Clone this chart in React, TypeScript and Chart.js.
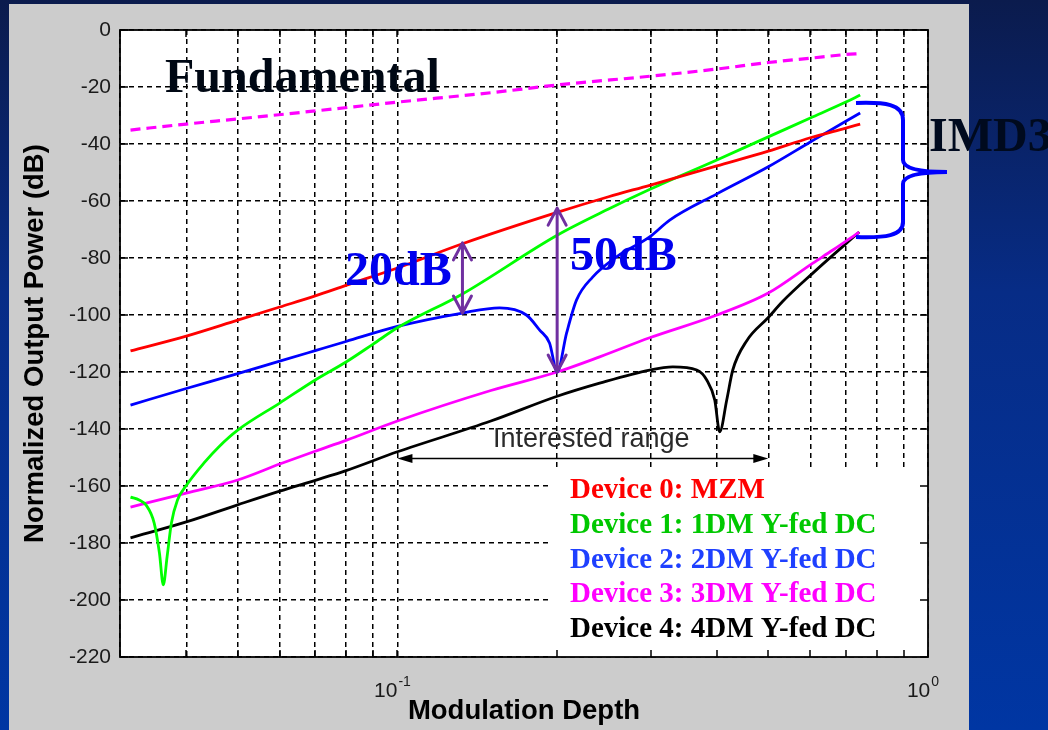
import React, { useEffect, useRef } from 'react';
import { Chart, registerables } from 'chart.js';

Chart.register(...registerables);

// ---------- axis ticks ----------
const xGridTicks = [0.03, 0.04, 0.05, 0.06, 0.07, 0.08, 0.09, 0.1, 0.2, 0.3, 0.4, 0.5, 0.6, 0.7, 0.8, 0.9, 1];
const xDecadeValues = [0.1, 1];
const xDecadeBase = ['10', '10'];
const xDecadeExp = ['-1', '0'];
const yMin = -220;
const yMax = 0;
const yStep = 20;

// ---------- series (modulation depth, dB) ----------
const fundM = [0.0314, 0.04, 0.05, 0.07, 0.1, 0.15, 0.2, 0.3, 0.4, 0.5, 0.6, 0.7, 0.745];
const fundDb = [-35.1, -33.0, -31.2, -28.4, -25.3, -22.0, -19.3, -16.2, -13.7, -11.4, -9.9, -8.6, -8.3];

const mzmM = [0.0314, 0.04, 0.05, 0.06, 0.07, 0.08, 0.1, 0.1326, 0.2, 0.25, 0.3, 0.4, 0.5, 0.6, 0.7, 0.745];
const mzmDb = [-112.6, -107.4, -101.8, -97.2, -93.3, -89.6, -83.5, -75.0, -64.0, -58.5, -54.4, -47.7, -42.5, -37.8, -34.4, -33.0];

const dm1M = [0.0314, 0.0326, 0.0336, 0.0348, 0.0356, 0.0362, 0.0368, 0.0375, 0.0385, 0.04, 0.0432, 0.0461, 0.05, 0.06, 0.07, 0.08, 0.09, 0.1, 0.1326, 0.2, 0.25, 0.3, 0.4, 0.5, 0.6, 0.7, 0.745];
const dm1Db = [-163.9, -164.9, -166.7, -173.0, -183.5, -194.7, -184.9, -173.0, -164.9, -159.8, -151.9, -146.2, -140.4, -130.9, -122.8, -116.5, -110.2, -104.5, -92.6, -72.0, -62.8, -55.8, -45.6, -37.5, -30.9, -25.3, -22.8];

const dm2M = [0.0314, 0.04, 0.05, 0.06, 0.07, 0.08, 0.1, 0.1326, 0.1558, 0.175, 0.1854, 0.1935, 0.2, 0.2084, 0.2176, 0.2333, 0.2588, 0.2988, 0.326, 0.4, 0.5, 0.6, 0.7, 0.745];
const dm2Db = [-131.6, -125.8, -120.6, -116.2, -112.5, -109.3, -104.0, -99.3, -97.5, -100.0, -105.3, -109.8, -120.0, -106.3, -94.7, -86.7, -79.6, -72.6, -66.7, -57.5, -48.0, -39.3, -32.0, -29.1];

const dm3M = [0.0314, 0.04, 0.05, 0.06, 0.07, 0.08, 0.1, 0.15, 0.2, 0.2405, 0.2988, 0.4, 0.5, 0.6067, 0.6617, 0.742];
const dm3Db = [-167.4, -162.5, -157.9, -152.3, -147.8, -144.0, -137.2, -126.5, -120.0, -114.7, -108.0, -100.0, -92.3, -81.8, -77.2, -70.9];

const dm4M = [0.0314, 0.04, 0.05, 0.06, 0.07, 0.08, 0.1, 0.15, 0.2, 0.2405, 0.2988, 0.3304, 0.3666, 0.3828, 0.3963, 0.405, 0.4175, 0.4286, 0.4555, 0.5, 0.5325, 0.6067, 0.742];
const dm4Db = [-178.2, -172.6, -166.6, -161.8, -158.0, -154.6, -148.0, -137.2, -128.5, -123.9, -119.3, -118.2, -119.3, -122.8, -129.8, -141.0, -129.8, -119.3, -109.0, -100.9, -95.2, -85.3, -70.9];

const seriesLabels = ['Fundamental', 'Device 0: MZM', 'Device 1: 1DM Y-fed DC', 'Device 2: 2DM Y-fed DC', 'Device 3: 3DM Y-fed DC', 'Device 4: 4DM Y-fed DC'];

// ---------- annotations (values) ----------
const arrow20M = 0.1326;
const arrow20Db = [-74.7, -99.3];
const arrow50M = 0.2;
const arrow50Db = [-62.5, -120.0];
const rangeM = [0.1, 0.5];
const rangeDb = -150;

const SERIF = '"Liberation Serif", "Times New Roman", serif';
const SANS = '"Liberation Sans", Arial, sans-serif';

const lineColors = ['#ff00ff', '#ff0000', '#00ff00', '#0000ff', '#ff00ff', '#000000'];
const legendColors = ['', '#ff0000', '#00c800', '#1f40ff', '#ff00ff', '#000000'];

function zip(m: number[], d: number[]) {
  return m.map((v, i) => ({ x: v, y: d[i] }));
}

const decorPlugin = {
  id: 'decor',
  beforeDraw(chart: any) {
    const { ctx, width, height, chartArea: a } = chart;
    ctx.save();
    const g = ctx.createLinearGradient(0, 0, 0, height);
    g.addColorStop(0, '#0b1b4d');
    g.addColorStop(0.4, '#072c86');
    g.addColorStop(1, '#0036a3');
    ctx.fillStyle = g;
    ctx.fillRect(0, 0, width, height);
    ctx.fillStyle = '#cccccc';
    ctx.fillRect(9, 4, 960, height - 4);
    ctx.fillStyle = '#ffffff';
    ctx.fillRect(a.left, a.top, a.right - a.left, a.bottom - a.top);
    ctx.restore();
  },
  beforeDatasetsDraw(chart: any) {
    const { ctx, chartArea: a } = chart;
    ctx.save();
    ctx.fillStyle = '#ffffff';
    ctx.fillRect(552, 468, a.right - 552, a.bottom - 468);
    ctx.restore();
  },
  afterDatasetsDraw(chart: any) {
    const { ctx, chartArea: a } = chart;
    const xs = chart.scales.x;
    const ys = chart.scales.y;
    const px = (v: number) => xs.getPixelForValue(v);
    const py = (v: number) => ys.getPixelForValue(v);
    ctx.save();

    // inner tick marks
    ctx.strokeStyle = '#000';
    ctx.lineWidth = 1.5;
    ctx.setLineDash([]);
    ctx.beginPath();
    xGridTicks.forEach((v) => {
      const x = Math.round(px(v));
      ctx.moveTo(x, a.bottom);
      ctx.lineTo(x, a.bottom - 7);
      ctx.moveTo(x, a.top);
      ctx.lineTo(x, a.top + 7);
    });
    for (let v = yMin; v <= yMax; v += yStep) {
      const y = Math.round(py(v));
      ctx.moveTo(a.left, y);
      ctx.lineTo(a.left + 8, y);
      ctx.moveTo(a.right, y);
      ctx.lineTo(a.right - 8, y);
    }
    ctx.stroke();

    // axes box
    ctx.lineWidth = 1.8;
    ctx.strokeRect(a.left, a.top, a.right - a.left, a.bottom - a.top);

    // x decade labels with superscripts
    ctx.fillStyle = '#1a1a1a';
    ctx.textBaseline = 'alphabetic';
    xDecadeValues.forEach((v, i) => {
      ctx.font = `21px ${SANS}`;
      const bw = ctx.measureText(xDecadeBase[i]).width;
      ctx.font = `14px ${SANS}`;
      const ew = ctx.measureText(xDecadeExp[i]).width;
      const left = px(v) - 5 - (bw + ew + 1) / 2;
      ctx.font = `21px ${SANS}`;
      ctx.textAlign = 'left';
      ctx.fillText(xDecadeBase[i], left, 697);
      ctx.font = `14px ${SANS}`;
      ctx.fillText(xDecadeExp[i], left + bw + 1, 686);
    });

    // legend (text only)
    ctx.font = `bold 29px ${SERIF}`;
    ctx.textAlign = 'left';
    chart.data.datasets.forEach((ds: any, i: number) => {
      if (i === 0) return;
      ctx.fillStyle = legendColors[i];
      ctx.fillText(ds.label, 570, 498 + (i - 1) * 34.8);
    });

    // interested range
    const rx1 = px(rangeM[0]);
    const rx2 = px(rangeM[1]);
    const ry = Math.round(py(rangeDb)) + 0.5;
    ctx.strokeStyle = '#000';
    ctx.fillStyle = '#000';
    ctx.lineWidth = 1.5;
    ctx.beginPath();
    ctx.moveTo(rx1 + 10, ry);
    ctx.lineTo(rx2 - 10, ry);
    ctx.stroke();
    ctx.beginPath();
    ctx.moveTo(rx1, ry);
    ctx.lineTo(rx1 + 15, ry - 4.5);
    ctx.lineTo(rx1 + 15, ry + 4.5);
    ctx.closePath();
    ctx.fill();
    ctx.beginPath();
    ctx.moveTo(rx2, ry);
    ctx.lineTo(rx2 - 15, ry - 4.5);
    ctx.lineTo(rx2 - 15, ry + 4.5);
    ctx.closePath();
    ctx.fill();
    ctx.font = `27px ${SANS}`;
    ctx.fillStyle = '#2a2a2a';
    ctx.fillText('Interested range', 493, 447);

    // purple double arrows
    ctx.strokeStyle = '#7030a0';
    ctx.lineWidth = 3;
    ctx.lineCap = 'round';
    ctx.lineJoin = 'round';
    const dbl = (m: number, d1: number, d2: number) => {
      const x = px(m);
      const y1 = py(d1);
      const y2 = py(d2);
      ctx.beginPath();
      ctx.moveTo(x, y1);
      ctx.lineTo(x, y2);
      ctx.moveTo(x - 9, y1 + 17);
      ctx.lineTo(x, y1);
      ctx.lineTo(x + 9, y1 + 17);
      ctx.moveTo(x - 9, y2 - 17);
      ctx.lineTo(x, y2);
      ctx.lineTo(x + 9, y2 - 17);
      ctx.stroke();
    };
    dbl(arrow20M, arrow20Db[0], arrow20Db[1]);
    dbl(arrow50M, arrow50Db[0], arrow50Db[1]);

    // big labels
    ctx.font = `bold 48px ${SERIF}`;
    ctx.fillStyle = '#0000ee';
    ctx.fillText('20dB', 345, 285);
    ctx.fillText('50dB', 570, 270);
    ctx.fillStyle = '#000814';
    ctx.fillText('Fundamental', 165, 92);

    // brace
    ctx.strokeStyle = '#0000ff';
    ctx.lineWidth = 4;
    ctx.lineCap = 'butt';
    ctx.beginPath();
    ctx.moveTo(856, 103);
    ctx.bezierCurveTo(885, 102, 903, 104, 903, 120);
    ctx.lineTo(903, 160);
    ctx.quadraticCurveTo(903, 172, 947, 172);
    ctx.moveTo(947, 172);
    ctx.quadraticCurveTo(903, 172, 903, 184);
    ctx.lineTo(903, 222);
    ctx.bezierCurveTo(903, 236, 885, 238, 856, 237);
    ctx.stroke();

    ctx.fillStyle = '#000a1e';
    ctx.fillText('IMD3', 929, 151);
    ctx.restore();
  },
};

export default function App() {
  const ref = useRef<HTMLCanvasElement | null>(null);
  useEffect(() => {
    if (!ref.current) return;
    const data = [
      zip(fundM, fundDb),
      zip(mzmM, mzmDb),
      zip(dm1M, dm1Db),
      zip(dm2M, dm2Db),
      zip(dm3M, dm3Db),
      zip(dm4M, dm4Db),
    ];
    const chart = new Chart(ref.current, {
      type: 'scatter',
      data: {
        datasets: data.map((d, i) => ({
          label: seriesLabels[i],
          data: d,
          showLine: true,
          borderColor: lineColors[i],
          backgroundColor: lineColors[i],
          borderWidth: i === 0 ? 3.2 : 2.8,
          borderDash: i === 0 ? [10, 6] : [],
          pointRadius: 0,
          cubicInterpolationMode: 'monotone',
          fill: false,
        })),
      },
      options: {
        responsive: false,
        animation: false,
        devicePixelRatio: 1,
        layout: { padding: { left: 15, right: 120, top: 30, bottom: 0 } },
        plugins: { legend: { display: false }, tooltip: { enabled: false } },
        scales: {
          x: {
            type: 'logarithmic',
            min: 0.03,
            max: 1,
            afterBuildTicks: (s: any) => {
              s.ticks = xGridTicks.map((v) => ({ value: v }));
            },
            afterFit: (s: any) => {
              s.height = 73;
            },
            ticks: { autoSkip: false, callback: () => '' },
            grid: { color: '#000', lineWidth: 1.5, drawTicks: false },
            border: { display: false, dash: [5, 4] },
            title: {
              display: true,
              text: 'Modulation Depth',
              color: '#000',
              font: { family: SANS, size: 27.5, weight: 'bold' },
              padding: { top: 0, bottom: 2 },
            },
          },
          y: {
            type: 'linear',
            min: yMin,
            max: yMax,
            afterFit: (s: any) => {
              s.width = 105;
            },
            ticks: { stepSize: yStep, color: '#1a1a1a', padding: 9, font: { family: SANS, size: 21 } },
            grid: { color: '#000', lineWidth: 1.5, drawTicks: false },
            border: { display: false, dash: [5, 4] },
            title: {
              display: true,
              text: 'Normalized Output Power (dB)',
              color: '#000',
              font: { family: SANS, size: 27.5, weight: 'bold' },
              padding: { top: 4, bottom: 0 },
            },
          },
        },
      } as any,
      plugins: [decorPlugin],
    });
    return () => chart.destroy();
  }, []);
  return (
    <div style={{ position: 'fixed', left: 0, top: 0, width: 1048, height: 730 }}>
      <canvas ref={ref} width={1048} height={730} />
    </div>
  );
}
